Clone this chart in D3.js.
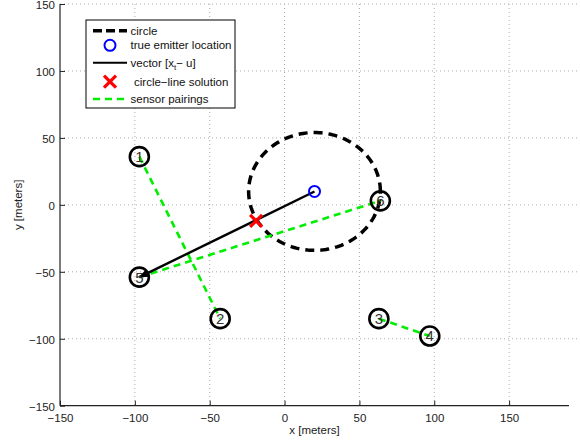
<!DOCTYPE html>
<html><head><meta charset="utf-8">
<script src="https://cdn.jsdelivr.net/npm/d3@7/dist/d3.min.js"></script>
<style>body{margin:0;background:#fff}svg{display:block}text{font-family:"Liberation Sans",Arial,sans-serif}</style>
</head><body>
<svg id="c" width="580" height="442"></svg>
<script>
const xTicks = [-150,-100,-50,0,50,100,150];
const yTicks = [-150,-100,-50,0,50,100,150];
const sensorIds = [1,2,3,4,5,6];
const sensorX = [-97,-43,63,97,-97,64];
const sensorY = [36,-85,-85,-98,-54,3];
const pairings = [[1,2],[5,6],[3,4]];
const emitter = [20,10];
const circleRadius = 44;
const solution = [-19,-12];
const vectorFrom = emitter;
const vectorTo = [-97,-54];
const legendLabels = ["circle","true emitter location","vector","circle\u2212line solution","sensor pairings"];

const svg = d3.select("#c");
const L=60, R=569, T=4, B=405.7;
const x = d3.scaleLinear().domain([-150,190]).range([L,R]);
const y = d3.scaleLinear().domain([-150,150]).range([B,T]);
const fmt = d => d<0 ? "\u2212"+Math.abs(d) : String(d);

// grid
const g = svg.append("g");
g.selectAll(".gx").data(xTicks.filter(d=>d>-150)).enter().append("line")
 .attr("x1",d=>x(d)).attr("x2",d=>x(d)).attr("y1",T).attr("y2",B)
 .attr("stroke","#aaa").attr("stroke-width",1).attr("stroke-dasharray","1,3");
g.selectAll(".gy").data(yTicks.filter(d=>d>-150)).enter().append("line")
 .attr("y1",d=>y(d)).attr("y2",d=>y(d)).attr("x1",L).attr("x2",R+10)
 .attr("stroke","#aaa").attr("stroke-width",1).attr("stroke-dasharray","1,3");

// axes
const xAxis = d3.axisBottom(x).tickValues(xTicks).tickFormat(fmt).tickSizeInner(-5).tickSizeOuter(0).tickPadding(8);
const yAxis = d3.axisLeft(y).tickValues(yTicks).tickFormat(fmt).tickSizeInner(-5).tickSizeOuter(0).tickPadding(5);
const gx = svg.append("g").attr("transform",`translate(0,${B})`).call(xAxis);
const gy = svg.append("g").attr("transform",`translate(${L},0)`).call(yAxis);
[gx,gy].forEach(a=>{
  a.select(".domain").attr("stroke","#222").attr("stroke-width",1.2);
  a.selectAll(".tick line").attr("stroke","#222");
  a.selectAll(".tick text").attr("font-size",11.5).attr("fill","#222").attr("font-family","Liberation Sans, Arial, sans-serif");
});
gx.select(".domain").attr("d",`M${L},0H${R}`);
gy.select(".domain").attr("d",`M0,${B}V${T}`);
gy.selectAll(".tick text").attr("dy","0.4em");

svg.append("text").attr("x",(L+R)/2).attr("y",434).attr("text-anchor","middle").attr("font-size",11.5).attr("fill","#222").text("x [meters]");
svg.append("text").attr("transform",`translate(22,${(T+B)/2}) rotate(-90)`).attr("text-anchor","middle").attr("font-size",11.5).attr("fill","#222").text("y [meters]");

// dashed circle (data radius)
const circ = d3.range(0,361,2).map(a=>[emitter[0]+circleRadius*Math.cos(a*Math.PI/180), emitter[1]+circleRadius*Math.sin(a*Math.PI/180)]);
svg.append("path").attr("d",d3.line().x(d=>x(d[0])).y(d=>y(d[1]))(circ))
 .attr("fill","none").attr("stroke","#000").attr("stroke-width",3.5).attr("stroke-dasharray","9,6");

// sensor pairing lines
const sx = id => sensorX[sensorIds.indexOf(id)], sy = id => sensorY[sensorIds.indexOf(id)];
svg.selectAll(".pair").data(pairings).enter().append("line")
 .attr("x1",d=>x(sx(d[0]))).attr("y1",d=>y(sy(d[0]))).attr("x2",d=>x(sx(d[1]))).attr("y2",d=>y(sy(d[1])))
 .attr("stroke","#00ee00").attr("stroke-width",2.6).attr("stroke-dasharray","7,5");

// vector line with arrowhead
svg.append("defs").append("marker").attr("id","ah").attr("viewBox","0 0 10 10").attr("refX",9).attr("refY",5)
 .attr("markerWidth",4).attr("markerHeight",4).attr("orient","auto")
 .append("path").attr("d","M0,1L10,5L0,9Z").attr("fill","#000");
svg.append("line").attr("x1",x(vectorFrom[0])).attr("y1",y(vectorFrom[1])).attr("x2",x(vectorTo[0])).attr("y2",y(vectorTo[1]))
 .attr("stroke","#000").attr("stroke-width",2.4).attr("marker-end","url(#ah)");

// sensors
const sg = svg.selectAll(".s").data(sensorIds).enter().append("g")
 .attr("transform",(d,i)=>`translate(${x(sensorX[i])},${y(sensorY[i])})`);
sg.append("circle").attr("r",9.5).attr("fill","none").attr("stroke","#000").attr("stroke-width",2.6);
sg.append("text").attr("text-anchor","middle").attr("dy","0.36em").attr("font-size",15).attr("fill","#333").text(d=>d);

// emitter
svg.append("circle").attr("cx",x(emitter[0])).attr("cy",y(emitter[1])).attr("r",5.5).attr("fill","none").attr("stroke","#0000ff").attr("stroke-width",2);

// solution X
const xs=x(solution[0]), ys=y(solution[1]), h=6;
svg.append("path").attr("d",`M${xs-h},${ys-h}L${xs+h},${ys+h}M${xs-h},${ys+h}L${xs+h},${ys-h}`)
 .attr("stroke","#ff0000").attr("stroke-width",3.2);

// legend
const lg = svg.append("g");
lg.append("rect").attr("x",86).attr("y",20).attr("width",149).attr("height",88).attr("fill","#fff").attr("stroke","#000").attr("stroke-width",1);
const ly = [30.7,45.3,62.7,81.7,99];
lg.append("line").attr("x1",93).attr("x2",127).attr("y1",ly[0]).attr("y2",ly[0]).attr("stroke","#000").attr("stroke-width",3.5).attr("stroke-dasharray","9,4");
lg.append("circle").attr("cx",110).attr("cy",ly[1]).attr("r",5.5).attr("fill","none").attr("stroke","#0000ff").attr("stroke-width",2);
lg.append("line").attr("x1",93).attr("x2",127).attr("y1",ly[2]).attr("y2",ly[2]).attr("stroke","#000").attr("stroke-width",2);
lg.append("path").attr("d",`M${110-h},${ly[3]-h}L${110+h},${ly[3]+h}M${110-h},${ly[3]+h}L${110+h},${ly[3]-h}`).attr("stroke","#ff0000").attr("stroke-width",3.2);
lg.append("line").attr("x1",93).attr("x2",127).attr("y1",ly[4]).attr("y2",ly[4]).attr("stroke","#00ee00").attr("stroke-width",2.6).attr("stroke-dasharray","7,5");
const tx=[130.5,130.5,130.5,134,130.5];
legendLabels.forEach((t,i)=>{
  const te = lg.append("text").attr("x",tx[i]).attr("y",ly[i]).attr("dy","0.35em").attr("font-size",11.5).attr("fill","#111");
  if(i===2){
    te.append("tspan").text("vector [x");
    te.append("tspan").attr("font-size",8).attr("dy","3").text("t");
    te.append("tspan").attr("dy","-3").text("\u2212 u]");
  } else te.text(t);
});
</script>
</body></html>
